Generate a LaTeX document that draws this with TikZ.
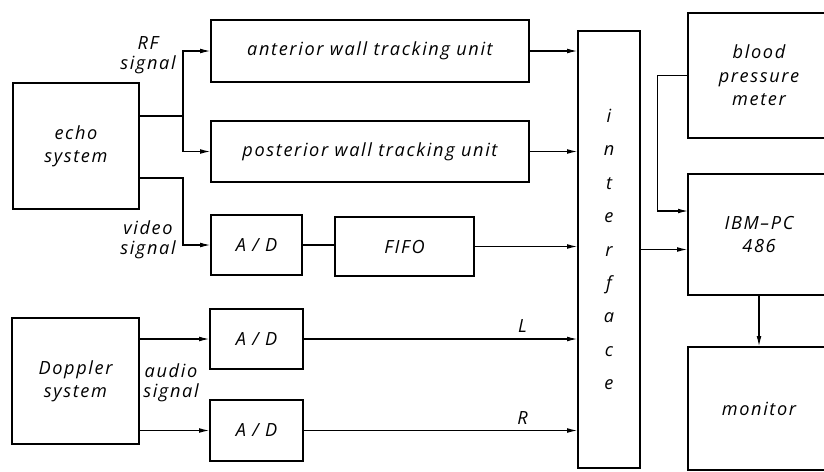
\documentclass[tikz,border=0pt]{standalone}
\usepackage{fontspec}
\setmainfont{Open Sans}[LetterSpace=9]
\usetikzlibrary{arrows.meta, positioning, calc}

\begin{document}
\begin{tikzpicture}[
    x=0.03cm, y=-0.03cm,
    blk/.style={draw, line width=1.3pt, inner sep=0pt, font=\fontsize{15.5}{20}\selectfont\itshape, align=center},
    lbl/.style={font=\fontsize{15.5}{17}\selectfont\itshape, align=center, inner sep=0pt},
    arr/.style={-{Latex[length=3mm, width=1.4mm]}, line width=0.9pt},
    wire/.style={line width=0.9pt},
]
\useasboundingbox (0,0) rectangle (824,471);

% Echo branch
\node[blk, minimum width=3.78cm, minimum height=3.78cm] (echo) at (76,146) {echo\\system};
\node[blk, minimum width=9.54cm, minimum height=1.86cm] (ant) at (370,51) {anterior wall tracking unit};
\node[blk, minimum width=9.54cm, minimum height=1.83cm] (post) at (370,151.5) {posterior wall tracking unit};
\node[blk, minimum width=2.73cm, minimum height=1.8cm] (adv) at (256.5,245) {A / D};
\node[blk, minimum width=4.17cm, minimum height=1.77cm] (fifo) at (404.5,246.5) {FIFO};

% Doppler branch
\node[blk, minimum width=3.81cm, minimum height=3.78cm] (doppler) at (75.5,381) {Doppler\\system};
\node[blk, minimum width=2.79cm, minimum height=1.8cm] (adl) at (256.5,339) {A / D};
\node[blk, minimum width=2.79cm, minimum height=1.83cm] (adr) at (256.5,430.5) {A / D};

% Interface and computer side
\node[blk, minimum width=1.86cm, minimum height=13.11cm,
      font=\fontsize{15.5}{28.5}\selectfont\itshape] (iface) at (609,249.5)
      {i\\n\\t\\e\\r\\f\\a\\c\\e};
\node[blk, minimum width=4.26cm, minimum height=3.75cm] (bpm) at (759,75.5) {blood\\pressure\\meter};
\node[blk, minimum width=4.26cm, minimum height=3.63cm] (pc) at (759,234.5) {IBM--PC\\486};
\node[blk, minimum width=4.26cm, minimum height=3.69cm] (mon) at (759,408.5) {monitor};

% Signal labels
\node[lbl] (rflbl) at (148,55) {RF\\signal};
\node[lbl] (vidlbl) at (148,240) {video\\signal};
\node[lbl] (audlbl) at (171,383) {audio\\signal};

% Echo connections
\coordinate (rfsplit) at (183,116);
\coordinate (vidbend) at (183,178);
\draw[wire] (echo.east |- rfsplit) -- (rfsplit);
\draw[arr] (rfsplit) |- (ant.west);
\draw[arr] (rfsplit) |- (post.west);
\draw[arr] (echo.east |- vidbend) -- (vidbend) |- (adv.west);
\draw[wire] (adv.east) -- (adv.east -| fifo.west);

% Into interface
\draw[arr] (ant.east) -- (ant.east -| iface.west);
\draw[arr] (post.east) -- (post.east -| iface.west);
\draw[arr] (fifo.east) -- (fifo.east -| iface.west);
\draw[arr] (adl.east) -- (adl.east -| iface.west)
    node[pos=0.8, above=5pt, lbl] (llbl) {L};
\draw[arr] (adr.east) -- (adr.east -| iface.west)
    node[pos=0.8, above=5pt, lbl] (rlbl) {R};

% Doppler connections
\draw[arr] (doppler.east |- adl.west) -- (adl.west);
\draw[arr] (doppler.east |- adr.west) -- (adr.west);

% Computer side
\coordinate (bpin) at (688,211);
\draw[arr] (iface.east) -- (iface.east -| pc.west);
\draw[arr] (bpm.west) -- ++(-30,0) |- (bpin);
\draw[arr] (pc.south) -- (mon.north);

\end{tikzpicture}
\end{document}
